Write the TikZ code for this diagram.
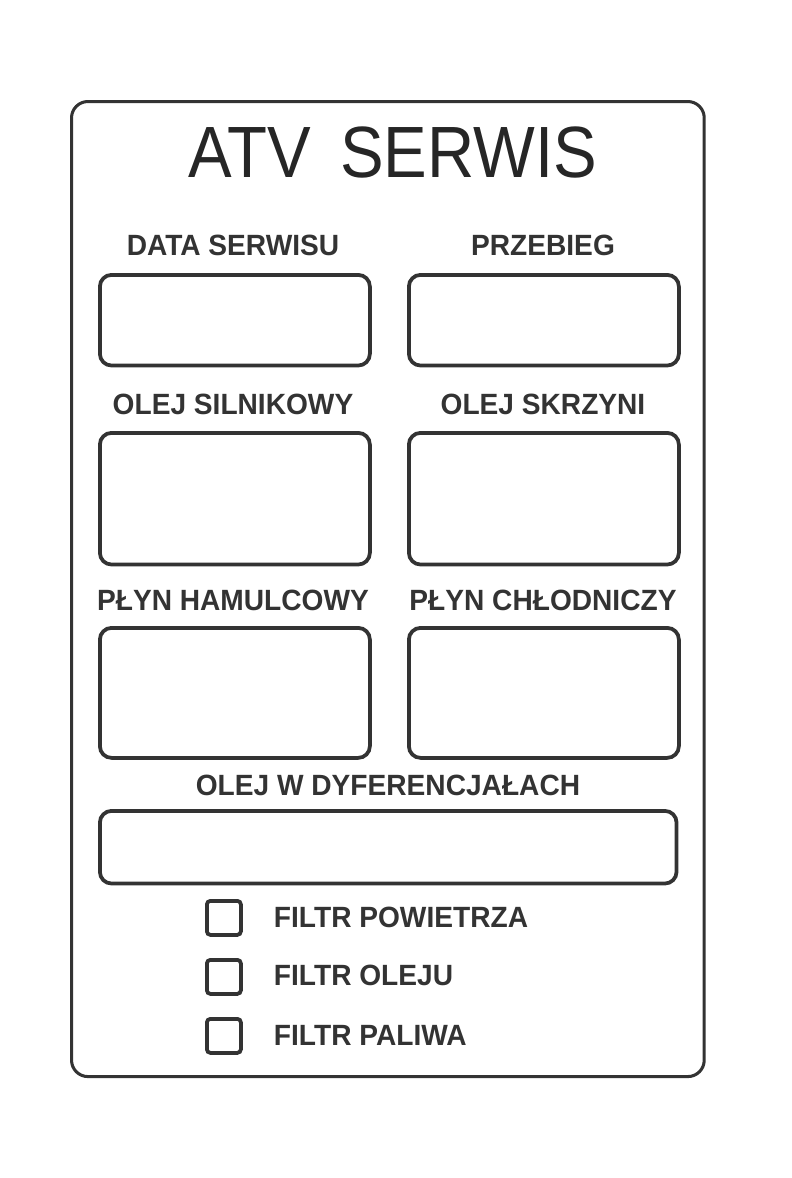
\documentclass[tikz,border=0pt]{standalone}
\usepackage{fontspec}
\setmainfont{Liberation Sans}
\begin{document}
\begin{tikzpicture}[x=0.03cm, y=-0.03cm,
    field/.style={draw=black!80, line width=3.2pt, rounded corners=10pt, inner sep=0pt, anchor=north west},
    tick/.style={draw=black!80, line width=3.2pt, rounded corners=3pt, inner sep=0pt, minimum size=1.02cm, anchor=north west},
    lbl/.style={font=\fontsize{25}{28}\selectfont\bfseries, text=black!80, xscale=.96, transform shape}]
  \useasboundingbox (0,0) rectangle (792,1178);
  \node [draw=black!80, line width=2.6pt, rounded corners=14pt, minimum width=18.98cm, minimum height=29.25cm, inner sep=0pt, anchor=north west] (frame) at (70,100) {};
  \node [font=\fontsize{62}{70}\selectfont, text=black!85, xscale=.9, transform shape] (title) at (393,152) {ATV\, SERWIS};
  % fields
  \node [lbl] (l1) at (233,245) {DATA SERWISU};
  \node [lbl] (l2) at (543,245) {PRZEBIEG};
  \node [field, minimum width=8.1cm, minimum height=2.72cm] (f1) at (98,273) {};
  \node [field, minimum width=8.1cm, minimum height=2.72cm] (f2) at (407,273) {};
  \node [lbl] (l3) at (233,404) {OLEJ SILNIKOWY};
  \node [lbl] (l4) at (543,404) {OLEJ SKRZYNI};
  \node [field, minimum width=8.1cm, minimum height=3.95cm] (f3) at (98,431) {};
  \node [field, minimum width=8.1cm, minimum height=3.95cm] (f4) at (407,431) {};
  \node [lbl] (l5) at (233,600) {PŁYN HAMULCOWY};
  \node [lbl] (l6) at (543,600) {PŁYN CHŁODNICZY};
  \node [field, minimum width=8.1cm, minimum height=3.9cm] (f5) at (98,626) {};
  \node [field, minimum width=8.1cm, minimum height=3.9cm] (f6) at (407,626) {};
  \node [lbl] (l7) at (388,785) {OLEJ W DYFERENCJAŁACH};
  \node [field, minimum width=17.3cm, minimum height=2.18cm] (f7) at (98,809) {};
  % checkboxes
  \node [tick] (c1) at (205,899) {};
  \node [tick] (c2) at (205,958) {};
  \node [tick] (c3) at (205,1017) {};
  \node [lbl, anchor=west] (t1) at (270,917) {FILTR POWIETRZA};
  \node [lbl, anchor=west] (t2) at (270,975) {FILTR OLEJU};
  \node [lbl, anchor=west] (t3) at (270,1035) {FILTR PALIWA};
\end{tikzpicture}
\end{document}
